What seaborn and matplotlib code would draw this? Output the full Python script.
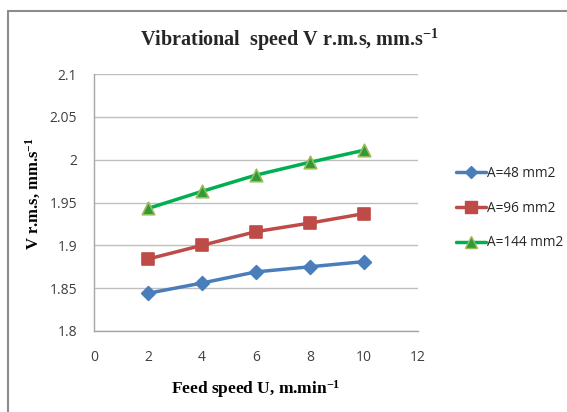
import matplotlib
matplotlib.use("Agg")
import matplotlib.pyplot as plt
import seaborn as sns
import pandas as pd
from matplotlib.lines import Line2D

feed_speed = [2, 4, 6, 8, 10]
a48 = [1.844, 1.856, 1.869, 1.875, 1.881]
a96 = [1.884, 1.900, 1.916, 1.926, 1.937]
a144 = [1.943, 1.963, 1.982, 1.997, 2.011]
series_names = ["A=48 mm2", "A=96 mm2", "A=144 mm2"]
y_ticks = [1.8, 1.85, 1.9, 1.95, 2.0, 2.05, 2.1]
y_tick_labels = ["1.8", "1.85", "1.9", "1.95", "2", "2.05", "2.1"]
x_ticks = [0, 2, 4, 6, 8, 10, 12]

df = pd.DataFrame({
    "U": feed_speed * 3,
    "V": a48 + a96 + a144,
    "series": [series_names[0]] * 5 + [series_names[1]] * 5 + [series_names[2]] * 5,
})

sns.set_theme(style="white")
plt.rcParams["font.family"] = ["Open Sans", "DejaVu Sans"]
plt.rcParams["mathtext.fontset"] = "custom"
plt.rcParams["mathtext.rm"] = "Liberation Serif:bold"
plt.rcParams["mathtext.default"] = "regular"

fig = plt.figure(figsize=(5.67, 4.12), dpi=100)
ax = fig.add_axes([94 / 567, 1 - 331 / 412, (418 - 94) / 567, (331 - 74) / 412])

line_colors = ["#4A7EBB", "#BE4B48", "#00B050"]
markers = ["D", "s", "^"]
msizes = [7, 9, 9]
mfcs = ["#4A7EBB", "#BE4B48", "#2E9A3A"]
mecs = ["#4A7EBB", "#BE4B48", "#9BBB59"]

sns.lineplot(data=df, x="U", y="V", hue="series", palette=line_colors, ax=ax,
             legend=False, linewidth=2.5)
for i, name in enumerate(series_names):
    sub = df[df["series"] == name]
    sns.scatterplot(x=sub["U"], y=sub["V"], ax=ax, marker=markers[i],
                    s=msizes[i] ** 2, color=mfcs[i], edgecolor=mecs[i],
                    linewidth=1.2, zorder=5, legend=False)

ax.set_xlim(0, 12)
ax.set_ylim(1.8, 2.1)
ax.set_xticks(x_ticks)
ax.set_yticks(y_ticks)
ax.set_yticklabels(y_tick_labels)
ax.yaxis.grid(True, color="#BFBFBF", linewidth=1)
ax.xaxis.grid(False)
for s in ["top", "right"]:
    ax.spines[s].set_visible(False)
for s in ["left", "bottom"]:
    ax.spines[s].set_color("#A6A6A6")
    ax.spines[s].set_linewidth(1)
ax.tick_params(axis="both", labelsize=10, colors="#404040", length=0)
ax.tick_params(axis="x", pad=14)
ax.tick_params(axis="y", pad=12)
ax.set_xlabel("Feed speed U, m.min$^{-1}$", fontsize=12.5, fontweight="bold",
              family="Liberation Serif", color="black")
ax.set_ylabel("V r.m.s, mm.s$^{-1}$", fontsize=12, fontweight="bold",
              family="Liberation Serif", color="black")
ax.xaxis.set_label_coords((256 - 94) / 324, -(378 - 331) / 257)
ax.yaxis.set_label_coords((43 - 94) / 324, (331 - 194) / 257)

fig.text(0.51, 1 - 40 / 412, "Vibrational  speed V r.m.s, mm.s$^{-1}$",
         ha="center", va="center", fontsize=14.5, fontweight="bold",
         family="Liberation Serif")

handles = [Line2D([0], [0], color=line_colors[i], lw=2.5, marker=markers[i],
                  markersize=msizes[i] - 1, markerfacecolor=mfcs[i],
                  markeredgecolor=mecs[i]) for i in range(3)]
fig.legend(handles, series_names, loc="upper left",
           bbox_to_anchor=(456 / 567, 1 - 166 / 412), frameon=False,
           fontsize=9.8, handlelength=2.2, handletextpad=0.05,
           labelspacing=1.45, borderaxespad=0, borderpad=0)

# figure frame (top and left edges visible)
fig.add_artist(Line2D([7.5 / 567, 1], [1 - 10.5 / 412, 1 - 10.5 / 412],
                      transform=fig.transFigure, color="#8C8C8C", lw=1.5))
fig.add_artist(Line2D([7.5 / 567, 7.5 / 567], [0, 1 - 10.5 / 412],
                      transform=fig.transFigure, color="#8C8C8C", lw=1.5))

fig.savefig("out.png", dpi=100)
